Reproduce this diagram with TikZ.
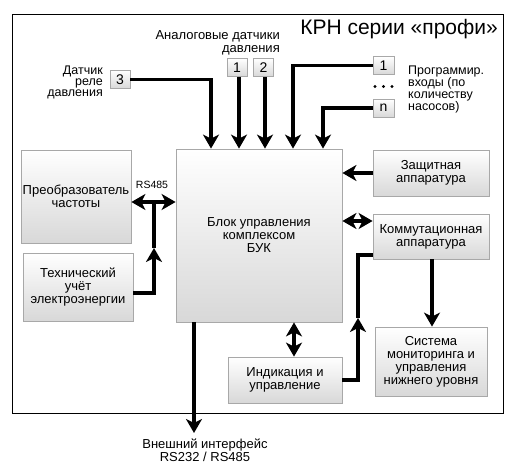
\documentclass[tikz,border=0pt]{standalone}
\usepackage{fontspec}
\setmainfont{Liberation Sans}
\usetikzlibrary{arrows.meta}
\definecolor{bordgray}{HTML}{A8A8A8}
\definecolor{botgray}{HTML}{D8D8D8}
\tikzset{
  box/.style={draw=bordgray, line width=0.8pt, top color=white, bottom color=botgray,
    rectangle, inner sep=0pt, align=center, font=\fontsize{13}{13}\selectfont},
  numbox/.style={box, minimum width=20pt, minimum height=18pt, font=\fontsize{14}{14}\selectfont},
  lbl/.style={inner sep=0pt, font=\fontsize{13}{13}\selectfont},
  conn/.style={line width=3.5pt},
  arr/.style={conn, -{Stealth[length=14pt,width=16pt,inset=4pt]}},
  dbl/.style={conn, {Stealth[length=14pt,width=16pt,inset=4pt]}-{Stealth[length=14pt,width=16pt,inset=4pt]}},
}
\begin{document}
\begin{tikzpicture}[x=1pt,y=-1pt]
\useasboundingbox[fill=white] (0,0) rectangle (514,473);
\draw[line width=1pt] (12,15) rectangle (503,413);
% title
\node[anchor=east, inner sep=0pt, font=\fontsize{21}{24}\selectfont] (title) at (498,29) {КРН серии «профи»};
% main boxes
\node[box, minimum width=110pt, minimum height=93pt] (fc) at (76,196.5) {Преобразователь\\частоты};
\node[box, minimum width=110pt, minimum height=68pt] (tech) at (78,287) {Технический\\учёт\\электроэнергии};
\node[box, minimum width=166pt, minimum height=173pt] (buk) at (259,235.5) {Блок управления\\комплексом\\БУК};
\node[box, minimum width=116pt, minimum height=46pt] (prot) at (431,173) {Защитная\\аппаратура};
\node[box, minimum width=116pt, minimum height=45pt] (comm) at (431,236.5) {Коммутационная\\аппаратура};
\node[box, minimum width=112pt, minimum height=69pt] (mon) at (431,361.5) {Система\\мониторинга и\\управления\\нижнего уровня};
\node[box, minimum width=114pt, minimum height=46pt] (ind) at (285,380) {Индикация и\\управление};
% small boxes
\node[numbox] (b1) at (237,67.5) {1};
\node[numbox] (b2) at (263.5,67.5) {2};
\node[numbox] (b3) at (120,79.5) {3};
\node[numbox, minimum width=21pt] (p1) at (383.5,65.5) {1};
\node[numbox, minimum width=21pt] (pn) at (383.5,108) {n};
% dots
\fill (375,86.5) circle (1.6pt) (383.5,86.5) circle (1.6pt) (392,86.5) circle (1.6pt);
% labels
\node[lbl, anchor=east, align=right] (lan) at (280,42.5) {Аналоговые датчики\\давления};
\node[lbl, anchor=east, align=right, font=\fontsize{12.5}{11}\selectfont] (ldr) at (103,82.5) {Датчик\\реле\\давления};
\node[lbl, anchor=west, align=left, font=\fontsize{12.5}{11.7}\selectfont] (lpr) at (408,89.5) {Программир.\\входы (по\\количеству\\насосов)};
\node[lbl, font=\fontsize{10.5}{10.5}\selectfont] (lrs) at (152,185) {RS485};
\node[lbl, align=center, font=\fontsize{13}{12}\selectfont] (lext) at (205,450.5) {Внешний интерфейс\\RS232 / RS485};
% top inputs
\draw[arr] (b3.east) -| ([xshift=-48pt]buk.north);
\draw[arr] ([xshift=2pt]b1.south) -- ([xshift=2pt]b1.south |- buk.north);
\draw[arr] ([xshift=1.5pt]b2.south) -- ([xshift=1.5pt]b2.south |- buk.north);
\draw[arr] (p1.west) -| ([xshift=34pt]buk.north);
\draw[arr] (pn.west) -| ([xshift=64pt]buk.north);
% left side
\coordinate (j1) at (154,202);
\coordinate (m1) at (154,248);
\draw[dbl] ([yshift=-5.5pt]fc.east) -- ([yshift=-5.5pt]fc.east -| buk.west);
\draw[arr] ([yshift=-6pt]tech.east) -| (m1);
\draw[conn] (m1) -- (j1);
% right side
\draw[arr] (prot.west) -- (prot.west -| buk.east);
\draw[dbl] ([yshift=15.5pt]comm.west) -- ([yshift=15.5pt]comm.west -| buk.east);
\draw[arr] ([xshift=1pt]comm.south) -- ([xshift=1pt]comm.south |- mon.north);
\coordinate (m2) at (358,318);
\draw[arr] (ind.east) -| (m2);
\draw[conn] (m2) |- ([yshift=-18.5pt]comm.west);
% bottom
\draw[dbl] ([xshift=35pt]buk.south) -- ([xshift=35pt]buk.south |- ind.north);
\coordinate (ext) at (194,433);
\draw[arr] ([xshift=-65pt]buk.south) -- (ext);
\end{tikzpicture}
\end{document}
